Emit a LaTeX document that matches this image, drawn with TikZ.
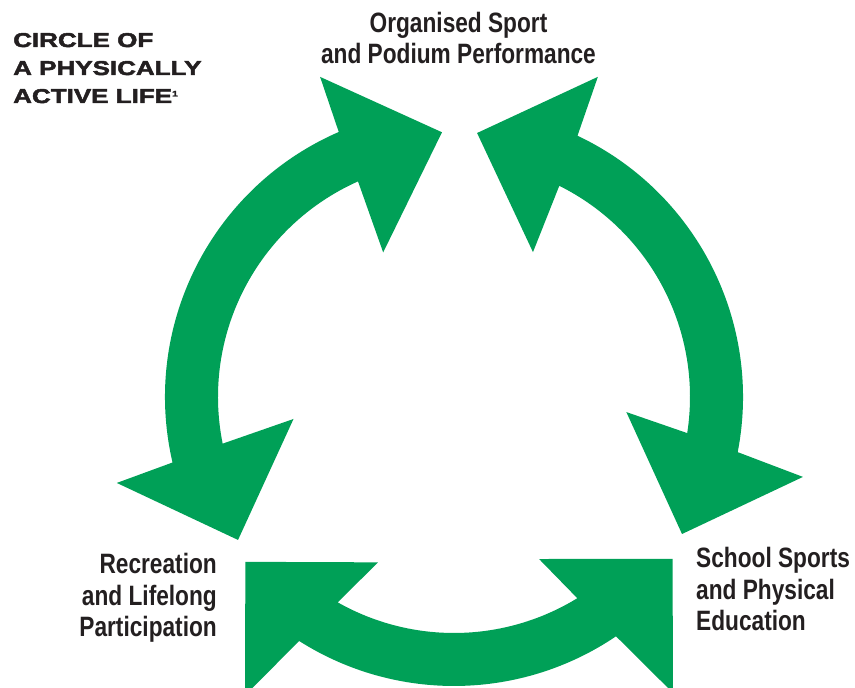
\documentclass[tikz,border=0pt]{standalone}
\usepackage{fontspec}
\setmainfont{Liberation Sans}
\newfontfamily\narrowfont[FakeStretch=0.81]{Liberation Sans}
\newfontfamily\widefont[FakeStretch=1.3,FakeBold=2.5]{Liberation Sans}
\definecolor{arrowgreen}{RGB}{0,160,87}
\definecolor{inkblack}{RGB}{35,31,32}

\begin{document}
\begin{tikzpicture}[x=1pt, y=1pt,
  every node/.style = {inner sep=0pt, text=inkblack},
  caption/.style = {font=\narrowfont\bfseries\fontsize{28}{31.5}\selectfont},
  greenarc/.style = {fill=arrowgreen}]
  \useasboundingbox (0,0) rectangle (855,688);
  \clip (0,0) rectangle (855,688);

  \node[anchor=base west, align=left,
    font=\widefont\bfseries\fontsize{20}{28}\selectfont] (title)
    at (13,585) {CIRCLE OF\\A PHYSICALLY\\ACTIVE LIFE\raisebox{6.5pt}{\fontsize{8}{8}\selectfont 1}};

  \node[caption, anchor=base, align=center] (organised) at (458.5,624)
    {Organised Sport\\and Podium Performance};
  \node[caption, anchor=base east, align=right] (recreation) at (217,51)
    {Recreation\\and Lifelong\\Participation};
  \node[caption, anchor=base west, align=left] (school) at (696,57)
    {School Sports\\and Physical\\Education};

  % the three double arrows round the circle
  \begin{scope}[shift={(454,291)}]
    \fill[greenarc] (113.5:289pt) arc[start angle=113.5, end angle=193.1, radius=289pt]
      -- (194.3:348pt) -- (213.5:259pt) -- (187.8:162pt) -- (191.4:236pt)
      arc[start angle=191.4, end angle=114, radius=236pt]
      -- (116.1:161pt) -- (92.6:265pt) -- (112.7:347pt) -- cycle;
    \fill[greenarc] (-11:289pt) arc[start angle=-11, end angle=64.7, radius=289pt]
      -- (65.8:351pt) -- (85:265pt) -- (61.4:165pt) -- (63.5:236pt)
      arc[start angle=63.5, end angle=-8.8, radius=236pt]
      -- (-5:173pt) -- (-31:266pt) -- (-12.9:358pt) -- cycle;
    \fill[greenarc] (237.6:289pt) arc[start angle=237.6, end angle=304.1, radius=289pt]
      -- (306.5:368pt) -- (323.5:272pt) -- (297.7:183pt) -- (301.5:236pt)
      arc[start angle=301.5, end angle=240.5, radius=236pt]
      -- (245.3:182pt) -- (218.3:266pt) -- (235:364pt) -- cycle;
  \end{scope}
\end{tikzpicture}
\end{document}
